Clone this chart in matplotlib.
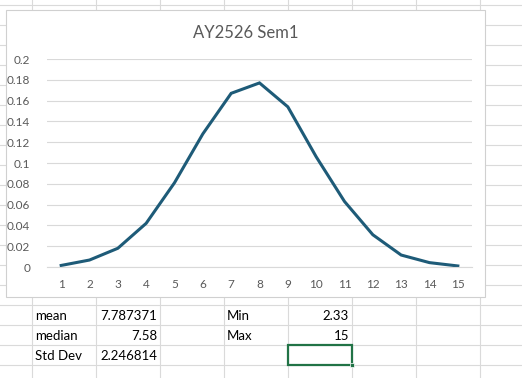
import matplotlib.pyplot as plt
from matplotlib.patches import Rectangle

plt.rcParams['font.family'] = ['Lato', 'DejaVu Sans']

# chart data
bins = list(range(1, 16))
density = [0.0015, 0.0067, 0.018, 0.042, 0.081, 0.128, 0.167, 0.177,
           0.154, 0.106, 0.063, 0.031, 0.0115, 0.0042, 0.001]
y_ticks = [0, 0.02, 0.04, 0.06, 0.08, 0.1, 0.12, 0.14, 0.16, 0.18, 0.2]
title = "AY2526 Sem1"

# cells under the chart
stat_names = ["mean", "median", "Std Dev"]
stat_values = ["7.787371", "7.58", "2.246814"]
range_names = ["Min", "Max"]
range_values = ["2.33", "15"]

W, H = 522, 378
fig = plt.figure(figsize=(W / 100, H / 100), dpi=100)

# spreadsheet background (pixel coordinates)
bg = fig.add_axes([0, 0, 1, 1])
bg.set_xlim(0, W)
bg.set_ylim(H, 0)
bg.axis("off")
grid_c = "#dadada"
for x in [32, 96, 160, 224, 288, 352, 416, 480]:
    bg.plot([x, x], [0, H], color=grid_c, lw=0.8)
for y in range(5, H, 20):
    bg.plot([0, W], [y, y], color=grid_c, lw=0.8)

# chart box
bg.add_patch(Rectangle((6, 10), 479, 287, facecolor="white",
                       edgecolor="#d0d0d0", lw=0.8, zorder=3))
bg.text(245.5, 33, title, ha="center", va="center", fontsize=12,
        color="#595959", zorder=4)

# cell texts
for i, (n, v) in enumerate(zip(stat_names, stat_values)):
    y = 316 + 20 * i
    bg.text(35, y, n, ha="left", va="center", fontsize=9.5, color="black")
    bg.text(157, y, v, ha="right", va="center", fontsize=9.5, color="black")
for i, (n, v) in enumerate(zip(range_names, range_values)):
    y = 316 + 20 * i
    bg.text(227, y, n, ha="left", va="center", fontsize=9.5, color="black")
    bg.text(349, y, v, ha="right", va="center", fontsize=9.5, color="black")

# selected cell
bg.add_patch(Rectangle((287.5, 345), 64, 20, facecolor="none",
                       edgecolor="#217346", lw=1.6, zorder=5))
bg.add_patch(Rectangle((349.5, 363), 4, 4, facecolor="#217346",
                       edgecolor="white", lw=0.5, zorder=6))

# plot area
ax = fig.add_axes([47 / W, 1 - 267 / H, 425 / W, 208 / H])
ax.set_zorder(5)
ax.patch.set_alpha(0)
ax.plot(bins, density, color="#1e5b78", lw=2.2, solid_joinstyle="miter")
ax.set_xlim(0.5, 15.5)
ax.set_ylim(0, 0.2)
ax.set_xticks(bins)
ax.set_xticklabels([str(b) for b in bins])
ax.set_yticks(y_ticks)
ax.set_yticklabels([f"{t:g}" for t in y_ticks])
ax.grid(axis="y", color="#d9d9d9", lw=0.8)
ax.set_axisbelow(True)
for s in ax.spines.values():
    s.set_visible(False)
ax.spines["bottom"].set_visible(True)
ax.spines["bottom"].set_color("#d9d9d9")
ax.tick_params(length=0, labelsize=8.5, labelcolor="#595959")
ax.tick_params(axis="y", pad=12)
ax.tick_params(axis="x", pad=9)

fig.savefig("out.png", dpi=100)
